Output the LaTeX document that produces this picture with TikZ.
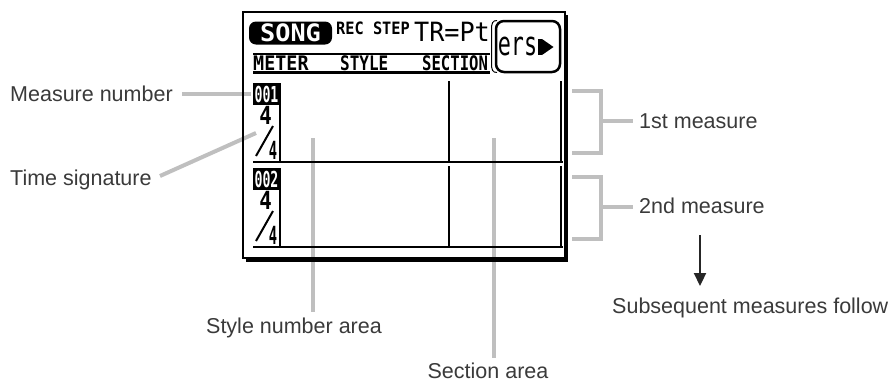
\documentclass[tikz,border=0pt]{standalone}
\usepackage{fontspec}
\usepackage{graphicx}
\setmainfont{Liberation Sans}
\newfontfamily\lcdfont{DejaVu Sans Mono}
\usetikzlibrary{arrows.meta}
\definecolor{callgray}{HTML}{BFBFBF}
\definecolor{labelink}{HTML}{3A3A3A}
\newcommand{\lcdtxt}[3]{\scalebox{#1}[1]{\fontsize{#2}{#2}\selectfont #3}}
\begin{document}
\begin{tikzpicture}[x=1pt,y=-1pt,
  lbl/.style={font=\fontsize{21.5}{24}\selectfont, text=labelink, inner sep=0pt},
  callout/.style={draw=callgray, line width=4pt},
  lcd/.style={inner sep=0pt, text=black},
  lcdbox/.style={fill=black, rounded corners=7pt, minimum width=83pt, minimum height=23pt, inner sep=0pt, text=white},
  numbox/.style={fill=black, minimum width=27pt, minimum height=22pt, inner sep=0pt, text=white},
  gridline/.style={line width=2.3pt},
  band/.style={line width=2.5pt}
]
\useasboundingbox (0,0) rectangle (890,381);

% ---------- labels ----------
\node[lbl, anchor=base west] (mn) at (10,101.5) {Measure number};
\node[lbl, anchor=base west] (ts) at (10,185) {Time signature};
\node[lbl, anchor=base west] (m1) at (639,128) {1st measure};
\node[lbl, anchor=base west] (m2) at (639,213) {2nd measure};
\node[lbl, anchor=base west] (sub) at (612,313) {Subsequent measures follow};
\node[lbl, anchor=base] (sna) at (294,333) {Style number area};
\node[lbl, anchor=base] (sa) at (488,378) {Section area};

% ---------- callout coordinates ----------
\coordinate (mnA) at (182,94);   \coordinate (mnB) at (251,94);
\coordinate (tsA) at (160,176);  \coordinate (tsB) at (256,133);
\coordinate (snaT) at (313,138); \coordinate (snaB) at (313,312);
\coordinate (saT) at (494,138);  \coordinate (saB) at (494,358);
\coordinate (b1t) at (572,91);   \coordinate (b1b) at (572,153);
\coordinate (b1m) at (601,121);  \coordinate (b1e) at (633,121);
\coordinate (b2t) at (572,177);  \coordinate (b2b) at (572,239);
\coordinate (b2m) at (601,207);  \coordinate (b2e) at (633,207);
\coordinate (arrA) at (700,235); \coordinate (arrB) at (700,286);

% ---------- callouts (under the LCD lines) ----------
\draw[callout] (mnA) -- (mnB);
\draw[callout] (tsA) -- (tsB);
\draw[callout] (snaT) -- (snaB);
\draw[callout] (saT) -- (saB);
\draw[callout] (b1t) -| (b1b -| b1m) -- (b1b);
\draw[callout] (b1m) -- (b1e);
\draw[callout] (b2t) -| (b2b -| b2m) -- (b2b);
\draw[callout] (b2m) -- (b2e);
\draw[line width=2.2pt, draw=black!85, -{Triangle[length=13pt,width=12pt]}] (arrA) -- (arrB);

% ---------- LCD frame ----------
\draw[line width=1.3pt] (243,12) rectangle (565,258);
\draw[line width=2.6pt] (246,260.5) -- (566.5,260.5) -- (566.5,15);

% ---------- top line ----------
\node[lcdbox] (song) at (290.5,33) {\lcdfont\bfseries\lcdtxt{1.05}{24}{SONG}};
\node[lcd] (rec) at (373,28) {\lcdfont\bfseries\lcdtxt{0.9}{17}{REC STEP}};
\node[lcd] (tr) at (452,31.5) {\lcdfont\lcdtxt{0.95}{26.5}{TR=Pt}};
\node[draw, line width=2.5pt, rounded corners=8pt, minimum width=64pt, minimum height=51pt, inner sep=0pt] (ersbox) at (528,46.5) {};
\node[lcd] (ers) at (517.5,46.5) {\lcdfont\lcdtxt{0.66}{33}{ers}};
\fill (538,39) rectangle (542,55);
\fill (542,39) -- (553.5,47) -- (542,55) -- cycle;
\draw[line width=1pt] (497,20.5) .. controls (492.5,20.5) and (491.5,23) .. (491.5,30) -- (491.5,63) .. controls (491.5,70) and (492.5,72.5) .. (497,72.5);

% ---------- header ----------
\draw[band] (253,54) -- (490,54);
\draw[band] (253,72.5) -- (490,72.5);
\node[lcd, anchor=west] (meter) at (253,63.2) {\lcdfont\bfseries\lcdtxt{0.92}{20}{METER}};
\node[lcd, anchor=west] (style) at (340,63.2) {\lcdfont\bfseries\lcdtxt{0.8}{20}{STYLE}};
\node[lcd, anchor=west] (section) at (422,63.2) {\lcdfont\bfseries\lcdtxt{0.78}{20}{SECTION}};

% ---------- measures ----------
\foreach \dy/\num in {0/001,85/002}{
  \node[numbox] (num\num) at (266.5,94+\dy) {\lcdfont\bfseries\lcdtxt{0.6}{22}{\num}};
  \node[lcd] (tsa\num) at (265.5,115.5+\dy) {\lcdfont\bfseries\lcdtxt{0.83}{25}{4}};
  \draw[line width=2pt] (256,156+\dy) -- (273,126+\dy);
  \node[lcd] (tsb\num) at (273,150.5+\dy) {\lcdfont\bfseries\lcdtxt{0.55}{25}{4}};
  \draw[gridline] (253,162+\dy) -- (563,162+\dy);
  \draw[gridline] (280,83+\dy) -- (280,162+\dy);
  \draw[gridline] (449,81+\dy) -- (449,162+\dy);
  \draw[gridline] (561,81+\dy) -- (561,162+\dy);
}
\end{tikzpicture}
\end{document}
